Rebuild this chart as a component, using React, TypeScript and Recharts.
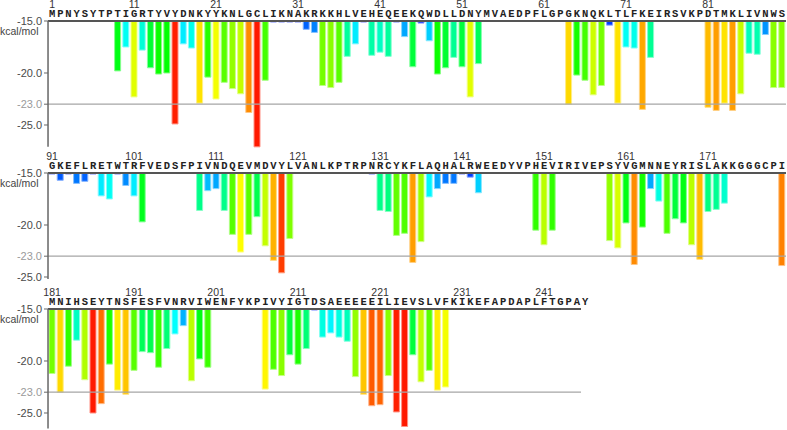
import React from 'react';
import { BarChart, Bar, XAxis, YAxis, Cell, ReferenceLine } from 'recharts';

// ---- data ----
const seqRow1 = 'MPNYSYTPTIGRTYVYDNKYYKNLGCLIKNAKRKKHLVEHEQEEKQWDLLDNYMVAEDPFLGPGKNQKLTLFKEIRSVKPDTMKLIVNWS';
const seqRow2 = 'GKEFLRETWTRFVEDSFPIVNDQEVMDVYLVANLKPTRPNRCYKFLAQHALRWEEDYVPHEVIRIVEPSYVGMNNEYRISLAKKGGGCPI';
const seqRow3 = 'MNIHSEYTNSFESFVNRVIWENFYKPIVYIGTDSAEEEEEILIEVSLVFKIKEFAPDAPLFTGPAY';

const rowStarts = [1, 91, 181];

// kcal/mol per residue (null = no bar)
const energyRow1: (number | null)[] = [
  null, null, null, null, null, null, null, null, -19.8, -17.5,
  -22.3, -17.8, -19.5, -20.1, -20.0, -24.9, -17.2, -17.6, -22.9, -20.4,
  -22.5, -20.9, -21.5, -22.0, -23.8, -27.1, -20.7, -15.1, -15.1, -15.1,
  -15.1, -15.8, -16.1, -21.2, -21.4, -20.9, -18.4, -17.2, -15.1, -18.3,
  -18.0, -18.4, -15.1, -16.5, -19.4, -15.2, -16.9, -20.1, -19.5, -18.5,
  -19.4, -22.3, -19.1, null, null, null, null, null, null, null,
  null, null, null, -23.0, -20.2, -20.7, -22.1, -21.2, -15.4, -22.9,
  -17.5, -17.6, -23.5, -18.5, null, null, null, null, null, null,
  -23.3, -23.6, -22.9, -23.6, -22.0, -18.1, -18.2, -16.3, -21.4, -21.4,
];
const energyRow2: (number | null)[] = [
  -15.1, -15.7, -15.1, -16.0, -15.8, -15.1, -17.2, -17.5, -15.1, -16.2,
  -17.2, -19.7, null, null, null, null, null, null, -18.6, -16.7,
  -16.5, -18.6, -20.9, -22.6, -20.9, -19.2, -22.0, -23.4, -24.6, -21.3,
  null, null, null, null, null, null, null, null, null, -15.1,
  -18.6, -18.7, -21.0, -20.8, -23.6, -21.6, -17.3, -16.5, -16.0, -16.0,
  -15.1, -15.4, -16.9, null, null, null, null, null, null, -20.5,
  -21.9, -20.5, null, null, null, null, null, null, -21.5, -22.2,
  -19.8, -23.8, -20.2, -16.5, -17.7, -20.8, -19.4, -19.8, -21.9, -23.3,
  -18.7, -18.5, -17.9, null, null, null, null, null, null, -23.9,
];
const energyRow3: (number | null)[] = [
  -21.2, -23.0, -20.5, -18.0, -21.8, -25.0, -24.1, -20.3, -22.8, -23.2,
  -20.9, -19.1, -19.2, -20.6, -18.8, -17.4, -16.6, -21.9, -19.8, -20.6,
  null, null, null, null, null, null, -22.7, -20.8, -21.4, -19.4,
  -20.3, -18.8, -15.1, -17.7, -17.3, -17.7, -18.1, -21.5, -23.2, -24.3,
  -24.2, -21.4, -24.9, -26.3, -19.4, -22.0, -20.9, -22.8, -22.5, null,
  null, null, null, null, null, null, null, null, null, null,
  null, null, null, null, null, null,
];

const yTicks = [-15, -20, -23, -25];
const baseValue = -15;
const refValue = -23;
const unitLabel = 'kcal/mol';

// ---- layout ----
const W = 787;
const SLOTS = 90;
const PX_PER_UNIT = 10.4;
const AXIS_W = 48;
const BOTTOM_PAD = 6;

function hueOf(v: number) {
  const d = baseValue - v;
  return Math.max(6, Math.min(235, 235 - 23 * d));
}

type RowProps = {
  seq: string;
  start: number;
  energies: (number | null)[];
  top: number;
  axisTop: number;
  yMin: number;
  lineSlots: number;
  z: number;
};

function SeqRow({ seq, start, energies, top, axisTop, yMin, lineSlots, z }: RowProps) {
  const plotH = (baseValue - yMin) * PX_PER_UNIT;
  const height = axisTop + plotH + BOTTOM_PAD;
  const data = energies
    .map((v, i) => ({ pos: start + i, kcal: v }))
    .filter((d) => d.kcal != null) as { pos: number; kcal: number }[];
  const ticks = seq.split('').map((_, i) => start + i);
  const x0 = start - 0.5;
  const x1 = start - 0.5 + lineSlots;

  const seqTick = (props: any) => {
    const { x, payload } = props;
    const n = Math.round(payload.value);
    const letter = seq[n - start];
    return (
      <g key={`t${n}`}>
        <text
          x={x}
          y={axisTop - 3.5}
          textAnchor="middle"
          fontFamily="Liberation Mono"
          fontWeight="bold"
          fontSize={10.5}
          fill="#222"
        >
          {letter}
        </text>
        {(n - 1) % 10 === 0 && (
          <text
            x={x}
            y={axisTop - 13}
            textAnchor="middle"
            fontFamily="Liberation Sans"
            fontSize={10.5}
            fill="#333"
          >
            {n}
          </text>
        )}
      </g>
    );
  };

  const yTick = (props: any) => {
    const { x, y, payload } = props;
    return (
      <text
        key={`y${payload.value}`}
        x={x}
        y={y}
        dy="0.355em"
        textAnchor="end"
        fontFamily="Liberation Sans"
        fontSize={11}
        fill={payload.value === refValue ? '#9a9a9a' : '#4a4a4a'}
      >
        {Number(payload.value).toFixed(1)}
      </text>
    );
  };

  const unit = () => (
    <text x={0} y={axisTop + 14.5} fontFamily="Liberation Sans" fontSize={10.5} fill="#444">
      {unitLabel}
    </text>
  );

  return (
    <div style={{ position: 'absolute', left: 0, top, zIndex: z }}>
      <BarChart
        width={W}
        height={height}
        data={data}
        margin={{ top: 0, right: 1, bottom: BOTTOM_PAD, left: 0 }}
      >
        <XAxis
          dataKey="pos"
          type="number"
          orientation="top"
          domain={[start - 0.5, start - 0.5 + SLOTS]}
          ticks={ticks}
          interval={0}
          height={axisTop}
          axisLine={false}
          tickLine={false}
          tick={seqTick}
        />
        <YAxis
          type="number"
          domain={[yMin, baseValue]}
          ticks={yTicks}
          interval={0}
          width={AXIS_W}
          tickSize={4}
          tick={yTick}
          axisLine={{ stroke: '#666', strokeWidth: 1.5 }}
          tickLine={{ stroke: '#666' }}
          label={unit}
        />
        <ReferenceLine
          segment={[{ x: x0, y: refValue }, { x: x1, y: refValue }]}
          stroke="#a6a6a6"
          strokeWidth={1.3}
        />
        <Bar dataKey="kcal" barSize={6} isAnimationActive={false}>
          {data.map((d) => {
            const h = hueOf(d.kcal);
            return (
              <Cell
                key={d.pos}
                fill={`hsl(${h},100%,50%)`}
                stroke={`hsl(${h},100%,76%)`}
                strokeWidth={1}
              />
            );
          })}
        </Bar>
        <ReferenceLine
          segment={[{ x: x0, y: baseValue }, { x: x1, y: baseValue }]}
          stroke="#555"
          strokeWidth={2}
        />
      </BarChart>
    </div>
  );
}

export default function App() {
  return (
    <div style={{ position: 'absolute', left: 0, top: 0, width: W, height: 430, background: '#fff' }}>
      <SeqRow seq={seqRow1} start={rowStarts[0]} energies={energyRow1} top={0} axisTop={21} yMin={-27.1} lineSlots={90} z={3} />
      <SeqRow seq={seqRow2} start={rowStarts[1]} energies={energyRow2} top={145} axisTop={28} yMin={-25.2} lineSlots={90} z={2} />
      <SeqRow seq={seqRow3} start={rowStarts[2]} energies={energyRow3} top={280} axisTop={29} yMin={-26.5} lineSlots={65} z={1} />
    </div>
  );
}
